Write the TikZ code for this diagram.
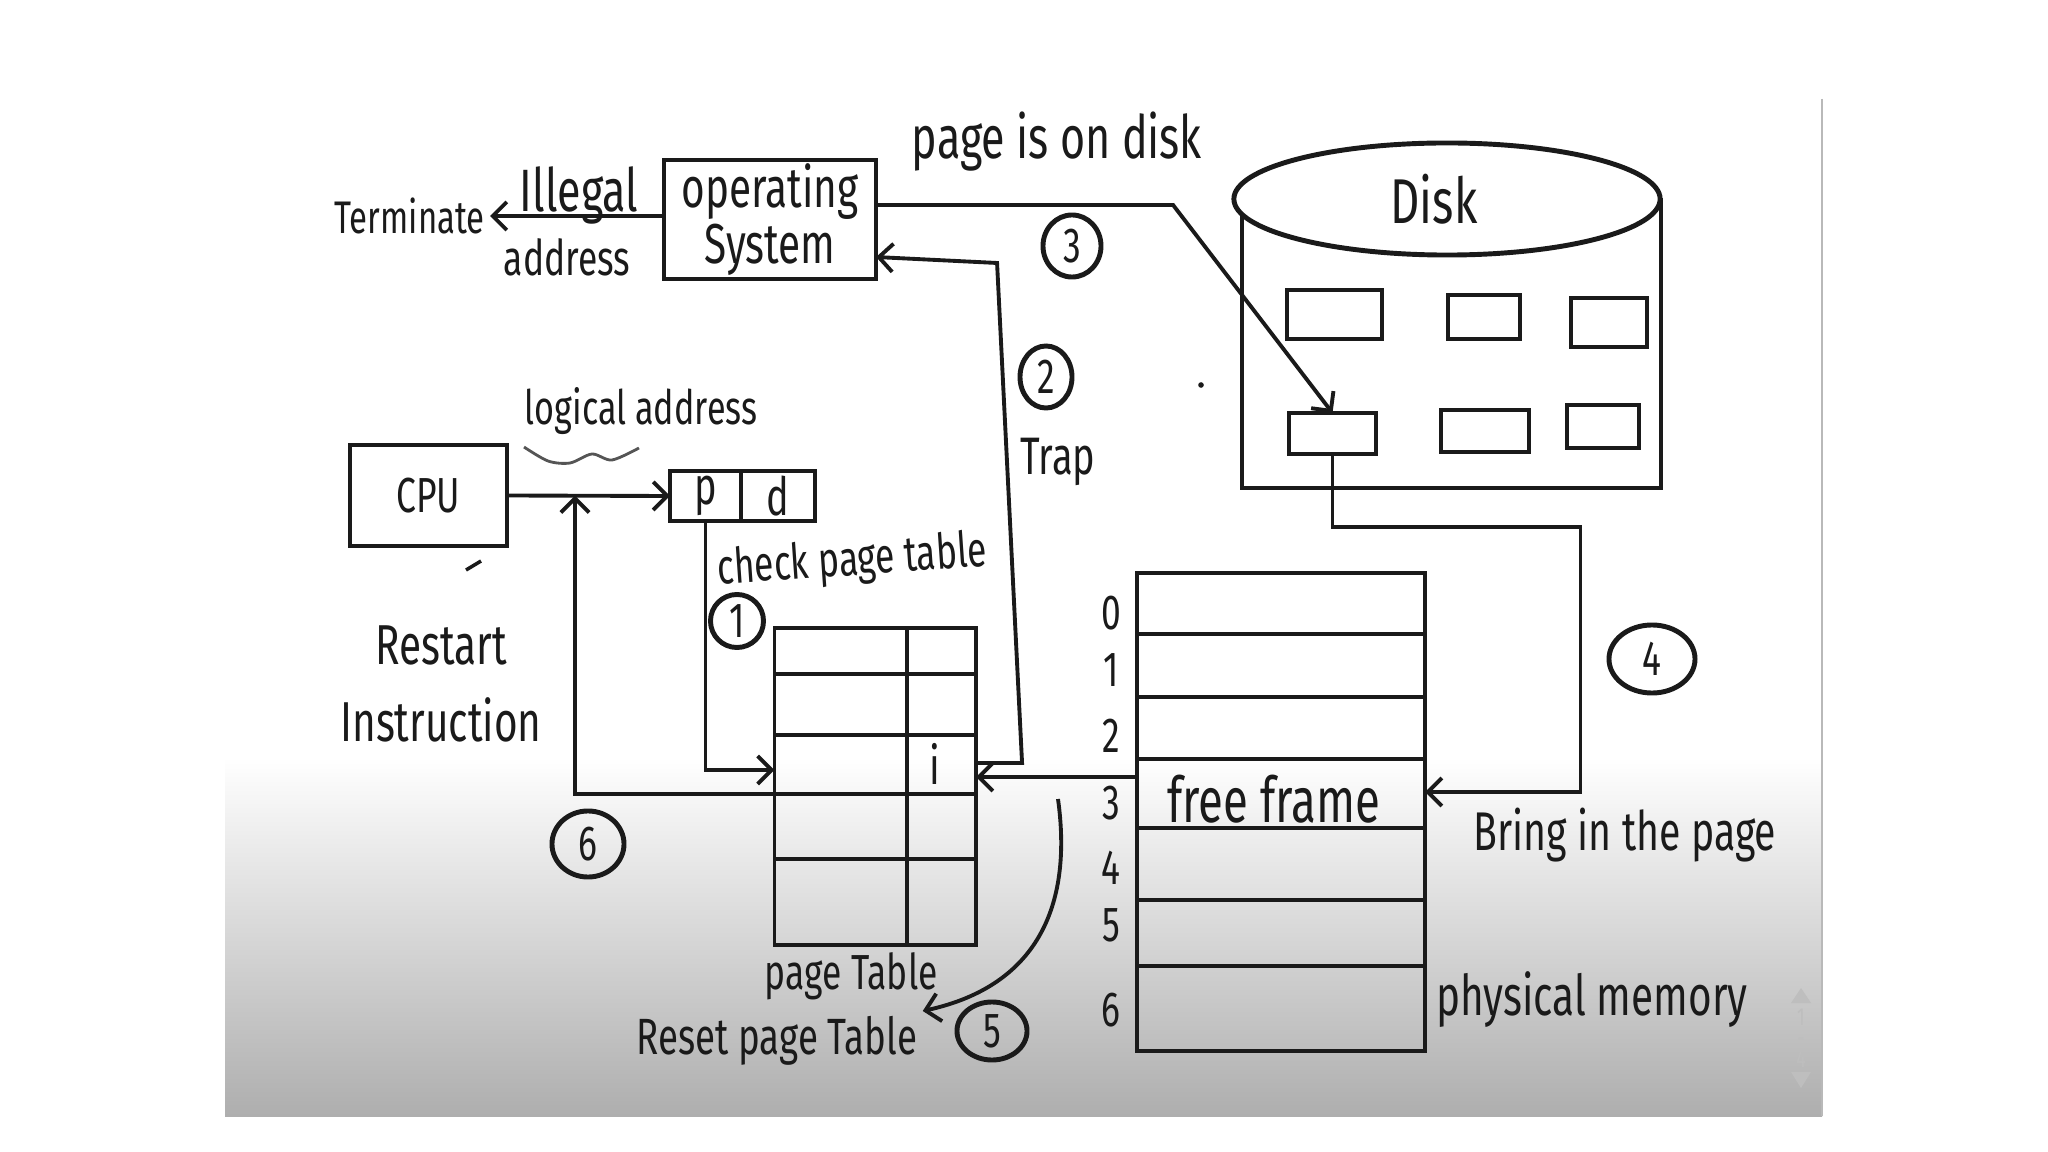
\documentclass[tikz,border=0pt]{standalone}
\usepackage{fontspec}
\newfontfamily\handfont[FakeStretch=0.72]{Fira Sans}
\usepackage{tikz}
\usetikzlibrary{shapes.geometric, arrows.meta, positioning, calc}
\definecolor{pfInk}{HTML}{1a1a1a}
\definecolor{pfShade}{HTML}{aeaeae}
\definecolor{pfEdge}{HTML}{b9b9b9}
\definecolor{pfIcon}{HTML}{bebebe}
\definecolor{pfWave}{HTML}{555555}

\begin{document}
\begin{tikzpicture}[x=0.01cm, y=-0.01cm, color=pfInk, line width=1.1pt,
        hand/.style={inner sep=1pt, font=\handfont\fontsize{#1}{#1}\selectfont},
        hand/.default=15pt,
        box/.style={draw, rectangle, line width=1.1pt, inner sep=0pt, outer sep=0pt},
        stepno/.style={draw, ellipse, line width=1.4pt, inner sep=0pt, font=\handfont\fontsize{14pt}{14pt}\selectfont},
        arr/.style={-{Straight Barb[length=4pt, width=8pt]}, line width=1.1pt}]
        \useasboundingbox (0,0) rectangle (2048,1152);
        \fill[white] (0,0) rectangle (2048,1152);
        \shade[top color=white, bottom color=pfShade] (225,757) rectangle (1822,1116);
        \draw[pfEdge, line width=0.8pt] (1822,99) -- (1822,1116);
        \fill[pfIcon] (1791,1003) -- (1801,988) -- (1811,1003) -- cycle;
        \fill[pfIcon] (1791,1072) -- (1811,1072) -- (1801,1088) -- cycle;
        \node[hand=7pt, text=pfIcon, align=center] (pg) at (1801,1038) {1\\[-1pt]-\\[-1pt]4};

        \node[box, minimum width=2.12cm, minimum height=1.05cm, align=center, hand=16pt] (os) at (770,219.5) {operating\\System};
        \node[hand=13pt, anchor=east] (term) at (490,216) {Terminate};
        \node[hand=17pt] (ill) at (579,195) {Illegal};
        \node[hand=14pt] (adr) at (567,257) {address};
        \draw[arr] ([yshift=0.35mm]os.west) -- (term.east);

        \node[hand=17pt] (pod) at (1057,142) {page is on disk};
        \node[box, minimum width=4.19cm, minimum height=2.88cm] (disk) at (1451.5,344) {};
        \node[draw, ellipse, fill=white, line width=1.4pt, hand=18pt, minimum width=4.26cm, minimum height=1.12cm] (dtop) at (1447,199) {\hspace*{-0.26cm}Disk};
        \foreach \n/\cx/\cy/\w/\h in {dA/1334.5/314.5/0.95/0.49, dB/1484/317/0.72/0.44, dC/1609/322.5/0.76/0.49,
            dD/1332.5/433.5/0.87/0.41, dE/1485/431/0.88/0.42, dF/1603/426.5/0.72/0.43}
          \node[box, minimum width=\w cm, minimum height=\h cm] (\n) at (\cx,\cy) {};
        \node[stepno, minimum width=0.58cm, minimum height=0.62cm] (s3) at (1072,246) {3};
        \draw[arr] ([yshift=1.45mm]os.east) -- ++(297,0) -- (dD.north);

        \node[box, minimum width=1.57cm, minimum height=1.01cm, hand=14pt] (cpu) at (428.5,495.5) {CPU};
        \node[box, minimum width=0.71cm, minimum height=0.5cm, hand=15pt] (p) at (705.5,496) {p};
        \node[box, minimum width=0.74cm, minimum height=0.5cm, hand=15pt, anchor=west] (d) at (p.east) {d};
        \draw[arr] (cpu.east) -- (p.west);
        \node[hand=13.5pt] (la) at (641,411) {logical address};
        \draw[pfWave, line width=0.8pt] plot[smooth] coordinates {(524,447) (548,461) (570,463) (592,454) (612,460) (639,448)};
        \draw[line width=1pt] (466,570) -- (481,561);
        \fill (1201,385) circle (0.8pt);

        \node[box, minimum width=2.015cm, minimum height=3.17cm] (pt) at (875.25,786.5) {};
        \foreach \y in {674,735,794,859}
          \draw (pt.west |- 0,\y) -- (pt.east |- 0,\y);
        \draw (pt.north -| 907,0) -- (pt.south -| 907,0);
        \node[hand=15pt] (ent) at (935,764) {i};
        \node[hand=14pt, below=0.2mm of pt, xshift=-2.4mm] (ptl) {page Table};
        \node[hand=14pt, rotate=4] (cpt) at (852,562) {check page table};
        \node[stepno, minimum width=0.53cm, minimum height=0.53cm] (s1) at (737,621) {1};
        \draw[arr] (p.south) |- ([yshift=1.65mm]pt.west);

        \draw[arr] ([yshift=2.35mm]pt.east) -- ++(46,0) -- ++(-25,-500) -- ([yshift=-3.75mm]os.east);
        \node[stepno, minimum width=0.52cm, minimum height=0.62cm] (s2) at (1046,377) {2};
        \node[hand=15pt] (trap) at (1058,462) {Trap};

        \draw[arr] ([yshift=-0.75mm]pt.west) -| ($(cpu.east)!0.417!(p.west)$);
        \node[stepno, minimum width=0.72cm, minimum height=0.66cm] (s6) at (588,844) {6};
        \node[hand=16pt, align=center] (rst) at (441,684) {Restart\\[6pt]Instruction};

        \node[box, minimum width=2.88cm, minimum height=4.78cm] (mem) at (1281,812) {};
        \foreach \y in {634,697,759,828,900,966}
          \draw (mem.west |- 0,\y) -- (mem.east |- 0,\y);
        \foreach \k/\y in {0/613,1/670,2/736,3/803,4/868,5/925,6/1010}
          \node[hand=14pt] (f\k) at (1111,\y) {\k};
        \node[hand=18pt] (ff) at (1274,799) {free frame};
        \draw[arr] (dD.south) -- ++(0,73) -- ++(248,0) |- ([yshift=2mm]mem.east);
        \node[stepno, minimum width=0.86cm, minimum height=0.68cm] (s4) at (1652,659) {4};
        \node[hand=15.5pt] (bring) at (1625,835) {Bring in the page};
        \node[hand=16pt] (phys) at (1592,1000) {physical memory};

        \draw[arr] ([yshift=3.5mm]mem.west) -- ([yshift=0.95mm]pt.east);
        \node[hand=14.5pt] (reset) at (777,1041) {Reset page Table};
        \coordinate (c5) at (1058,799);
        \draw[arr] (c5) .. controls (1072,900) and (1042,985) .. (reset.north east);
        \node[stepno, minimum width=0.7cm, minimum height=0.58cm] (s5) at (992,1031) {5};
      \end{tikzpicture}
\end{document}
